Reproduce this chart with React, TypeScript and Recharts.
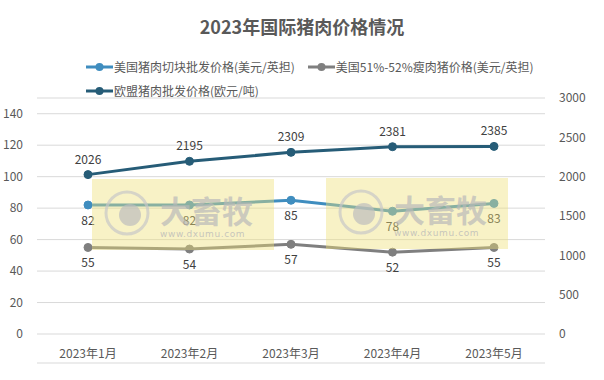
import { type ReactElement } from 'react';
import {
    CartesianGrid,
    LabelList,
    Line,
    LineChart,
    XAxis,
    YAxis,
} from 'recharts';

const months = ['2023年1月', '2023年2月', '2023年3月', '2023年4月', '2023年5月'];
const usCut = [82, 82, 85, 78, 83];
const usLean = [55, 54, 57, 52, 55];
const euPork = [2026, 2195, 2309, 2381, 2385];

const leftTicks = [0, 20, 40, 60, 80, 100, 120, 140];
const rightTicks = [0, 500, 1000, 1500, 2000, 2500, 3000];
const boundaryTicks = [0, 1, 2, 3, 4, 5];

const SERIES = [
    { key: 'usCut', name: '美国猪肉切块批发价格(美元/英担)', color: '#3f8dbf' },
    { key: 'usLean', name: '美国51%-52%瘦肉猪价格(美元/英担)', color: '#7f7f7f' },
    { key: 'eu', name: '欧盟猪肉批发价格(欧元/吨)', color: '#265c77' },
];

const FONT = '"Noto Sans CJK SC", "Noto Sans", sans-serif';

const chartData = months.map((m, i) => ({
    month: m,
    usCut: usCut[i],
    usLean: usLean[i],
    eu: euPork[i],
}));

function LegendItem({ name, color }: { name: string; color: string }): ReactElement {
    return (
        <span style={{ display: 'inline-flex', alignItems: 'center', marginRight: 13 }}>
            <svg width={27} height={10} style={{ marginRight: 1 }}>
                <line x1={0} y1={5} x2={27} y2={5} stroke={color} strokeWidth={3} />
                <circle cx={13.5} cy={5} r={4} fill={color} />
            </svg>
            <span>{name}</span>
        </span>
    );
}

function Watermark({ x, y }: { x: number; y: number }): ReactElement {
    return (
        <g transform={`translate(${x},${y})`}>
            <rect x={0} y={0} width={182} height={71} fill="rgba(238,224,120,0.42)" />
            <circle cx={35} cy={34} r={21} fill="none" stroke="rgba(200,200,200,0.7)" strokeWidth={3} />
            <circle cx={38} cy={36} r={11} fill="rgba(190,190,190,0.7)" />
            <text x={68} y={44} fontSize={31} fontWeight={700} fill="rgba(185,185,185,0.7)" fontFamily={FONT}>
                大畜牧
            </text>
            <text x={68} y={58} fontSize={9} fill="rgba(185,185,185,0.8)" fontFamily="DejaVu Sans" letterSpacing={0.6}>
                www.dxumu.com
            </text>
        </g>
    );
}

export default function App(): ReactElement {
    return (
        <div style={{ position: 'absolute', left: 0, top: 0, width: 604, height: 380, background: '#fff', fontFamily: FONT }}>
            <div
                style={{
                    position: 'absolute',
                    top: 13,
                    width: 604,
                    textAlign: 'center',
                    fontSize: 18,
                    lineHeight: '26px',
                    fontWeight: 700,
                    color: '#595959',
                }}
            >
                2023年国际猪肉价格情况
            </div>
            <div
                style={{
                    position: 'absolute',
                    top: 55,
                    left: 86,
                    fontSize: 12,
                    color: '#595959',
                    lineHeight: '24px',
                    whiteSpace: 'nowrap',
                }}
            >
                <div>
                    <LegendItem name={SERIES[0].name} color={SERIES[0].color} />
                    <LegendItem name={SERIES[1].name} color={SERIES[1].color} />
                </div>
                <div>
                    <LegendItem name={SERIES[2].name} color={SERIES[2].color} />
                </div>
            </div>
            <div style={{ position: 'absolute', left: 0, top: 0 }}>
                <LineChart
                    width={604}
                    height={380}
                    data={chartData}
                    margin={{ top: 98, right: 14, left: 0, bottom: 16 }}
                >
                    <CartesianGrid yAxisId="left" vertical={false} stroke="#d9d9d9" />
                    <XAxis
                        xAxisId="b"
                        type="number"
                        domain={[0, 5]}
                        ticks={boundaryTicks}
                        allowDataOverflow
                        tick={false}
                        tickLine={{ stroke: '#d9d9d9' }}
                        tickSize={5}
                        axisLine={{ stroke: '#d9d9d9' }}
                        height={1}
                    />
                    <XAxis
                        dataKey="month"
                        padding={{ left: 51, right: 51 }}
                        tickLine={false}
                        axisLine={false}
                        tick={{ fill: '#595959', fontSize: 12, fontFamily: FONT }}
                        height={29}
                        tickMargin={9}
                    />
                    <YAxis
                        yAxisId="left"
                        domain={[0, 150]}
                        ticks={leftTicks}
                        axisLine={false}
                        tickLine={false}
                        width={37}
                        tickMargin={8}
                        tick={{ fill: '#595959', fontSize: 12, fontFamily: FONT }}
                    />
                    <YAxis
                        yAxisId="right"
                        orientation="right"
                        domain={[0, 3000]}
                        ticks={rightTicks}
                        axisLine={false}
                        tickLine={false}
                        width={45}
                        tickMargin={8}
                        tick={{ fill: '#595959', fontSize: 12, fontFamily: FONT, textAnchor: 'start' }}
                    />
                    <Line
                        yAxisId="right"
                        dataKey="eu"
                        name={SERIES[2].name}
                        stroke={SERIES[2].color}
                        strokeWidth={3}
                        dot={{ r: 4, fill: SERIES[2].color, stroke: SERIES[2].color, strokeWidth: 1 }}
                        isAnimationActive={false}
                    >
                        <LabelList dataKey="eu" position="top" offset={11} fill="#404040" fontSize={12} fontFamily={FONT} />
                    </Line>
                    <Line
                        yAxisId="left"
                        dataKey="usLean"
                        name={SERIES[1].name}
                        stroke={SERIES[1].color}
                        strokeWidth={3}
                        dot={{ r: 4, fill: SERIES[1].color, stroke: SERIES[1].color, strokeWidth: 1 }}
                        isAnimationActive={false}
                    >
                        <LabelList dataKey="usLean" position="bottom" offset={11} fill="#404040" fontSize={12} fontFamily={FONT} />
                    </Line>
                    <Line
                        yAxisId="left"
                        dataKey="usCut"
                        name={SERIES[0].name}
                        stroke={SERIES[0].color}
                        strokeWidth={3}
                        dot={{ r: 4, fill: SERIES[0].color, stroke: SERIES[0].color, strokeWidth: 1 }}
                        isAnimationActive={false}
                    >
                        <LabelList dataKey="usCut" position="bottom" offset={11} fill="#404040" fontSize={12} fontFamily={FONT} />
                    </Line>
                </LineChart>
            </div>
            <svg
                width={604}
                height={380}
                style={{ position: 'absolute', left: 0, top: 0, pointerEvents: 'none' }}
            >
                <Watermark x={92} y={179} />
                <Watermark x={326} y={178} />
            </svg>
        </div>
    );
}
